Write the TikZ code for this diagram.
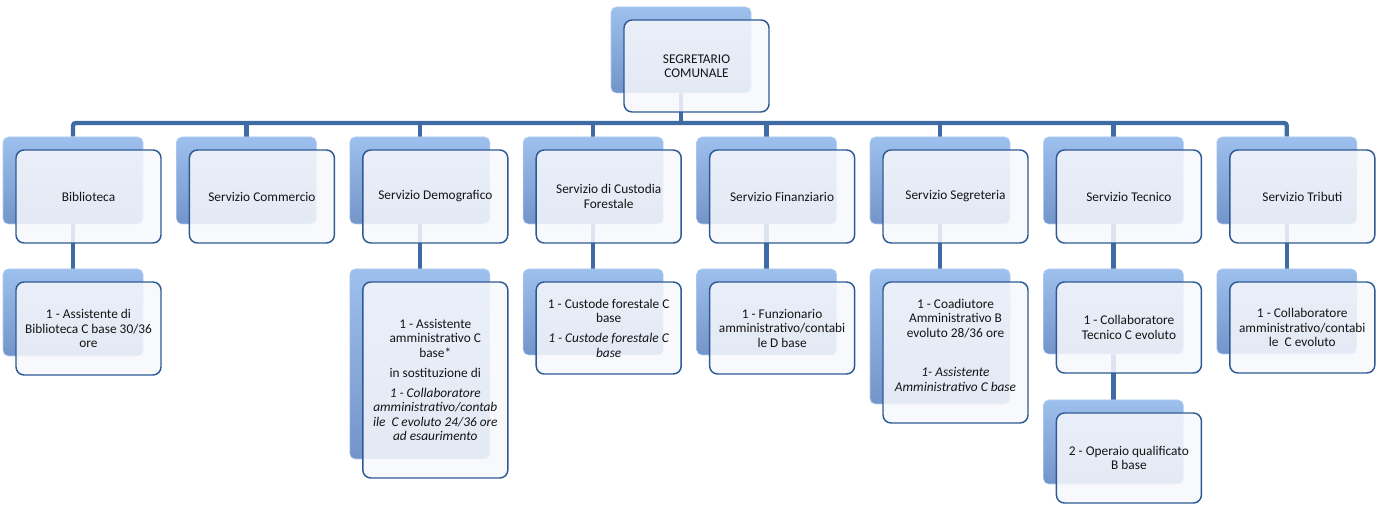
\documentclass[tikz,border=0pt]{standalone}
\usepackage{fontspec}
\setmainfont{Carlito}
\usetikzlibrary{backgrounds}
\definecolor{barc}{HTML}{3F6BA5}
\definecolor{frameC}{HTML}{2D5A95}
\definecolor{fillC}{HTML}{F7F8FC}
\definecolor{shTop}{HTML}{9EC0EE}
\definecolor{shBot}{HTML}{7294C9}
\definecolor{txtC}{HTML}{141414}
\tikzset{
  sbox/.style={rectangle, rounded corners=4pt, top color=shTop, bottom color=shBot,
    draw=shTop!80!white, line width=0.4pt, minimum width=105pt, inner sep=0pt},
  fbox/.style={rectangle, rounded corners=6pt, fill=fillC, fill opacity=0.86, text opacity=1,
    draw=frameC, line width=1.1pt, minimum width=108.75pt, inner sep=0pt, align=center,
    text=txtC, font=\fontsize{10}{10.9}\selectfont},
  conn/.style={draw=barc, line width=3.2pt},
}
\newcommand\obox[5]{%
  \pgfmathsetmacro\obSX{#2}%
  \pgfmathsetmacro\obSY{#3-13+(#4-6)/2}%
  \pgfmathsetmacro\obFX{#2+15.5}%
  \pgfmathsetmacro\obFY{#3+#4/2}%
  \pgfmathsetmacro\obSH{(#4-6)*0.75}%
  \pgfmathsetmacro\obFH{#4*0.75}%
  \node[sbox, minimum height=\obSH pt] (#1-s) at (\obSX,\obSY) {};
  \node[fbox, minimum height=\obFH pt] (#1) at (\obFX,\obFY) {#5};
}
\begin{document}
\begin{tikzpicture}[x=0.75pt,y=-0.75pt]
\useasboundingbox (0,0) rectangle (1382,505);
% top
\obox{top}{681}{20}{92}{SEGRETARIO\\COMUNALE}
% level 1
\obox{c1}{73}{150}{93}{Biblioteca}
\obox{c2}{246.4}{150}{93}{Servizio Commercio}
\obox{c3}{419.8}{150}{93}{Servizio Demografico}
\obox{c4}{593.2}{150}{93}{Servizio di Custodia\\Forestale}
\obox{c5}{766.6}{150}{93}{Servizio Finanziario}
\obox{c6}{940}{150}{93}{Servizio Segreteria}
\obox{c7}{1113.4}{150}{93}{Servizio Tecnico}
\obox{c8}{1286.8}{150}{93}{Servizio Tributi}
% level 2
\obox{b1}{73}{282}{93}{1 - Assistente di\\Biblioteca C base 30/36\\ore}
\obox{b3}{419.8}{282}{196}{1 - Assistente\\amministrativo C\\base*\\[4pt]in sostituzione di\\[4pt]\textit{1 - Collaboratore}\\\textit{amministrativo/contab}\\\textit{ile\ \ C evoluto 24/36 ore}\\\textit{ad esaurimento}}
\obox{b4}{593.2}{282}{92}{1 - Custode forestale C\\base\\[4pt]\textit{1 - Custode forestale C}\\\textit{base}}
\obox{b5}{766.6}{282}{92}{1 - Funzionario\\amministrativo/contabi\\le D base}
\obox{b6}{940}{282}{141}{1 - Coadiutore\\Amministrativo B\\evoluto 28/36 ore\\[4pt]\mbox{}\\[4pt]\textit{1- Assistente}\\\textit{Amministrativo C base}\\\mbox{}}
\obox{b7}{1113.4}{282}{91}{1 - Collaboratore\\Tecnico C evoluto}
\obox{b8}{1286.8}{282}{91}{1 - Collaboratore\\amministrativo/contabi\\le\ \ C evoluto}
% level 3
\obox{d7}{1113.4}{413}{90}{2 - Operaio qualificato\\B base}
% connectors
\begin{scope}[on background layer]
  \coordinate (busR) at (1286.8,123);
  \draw[conn] (top-s.south) -- (top-s.south |- busR);
  \draw[conn, rounded corners=2pt] (c1-s.north) |- (busR) -- (c8-s.north);
  \foreach \i in {2,...,7} {\draw[conn] (c\i-s.north) -- (c\i-s.north |- busR);}
  \foreach \i in {1,3,4,5,6,7,8} {\draw[conn] (c\i-s.south) -- (b\i-s.north);}
  \draw[conn] (b7-s.south) -- (d7-s.north);
\end{scope}
\end{tikzpicture}
\end{document}
